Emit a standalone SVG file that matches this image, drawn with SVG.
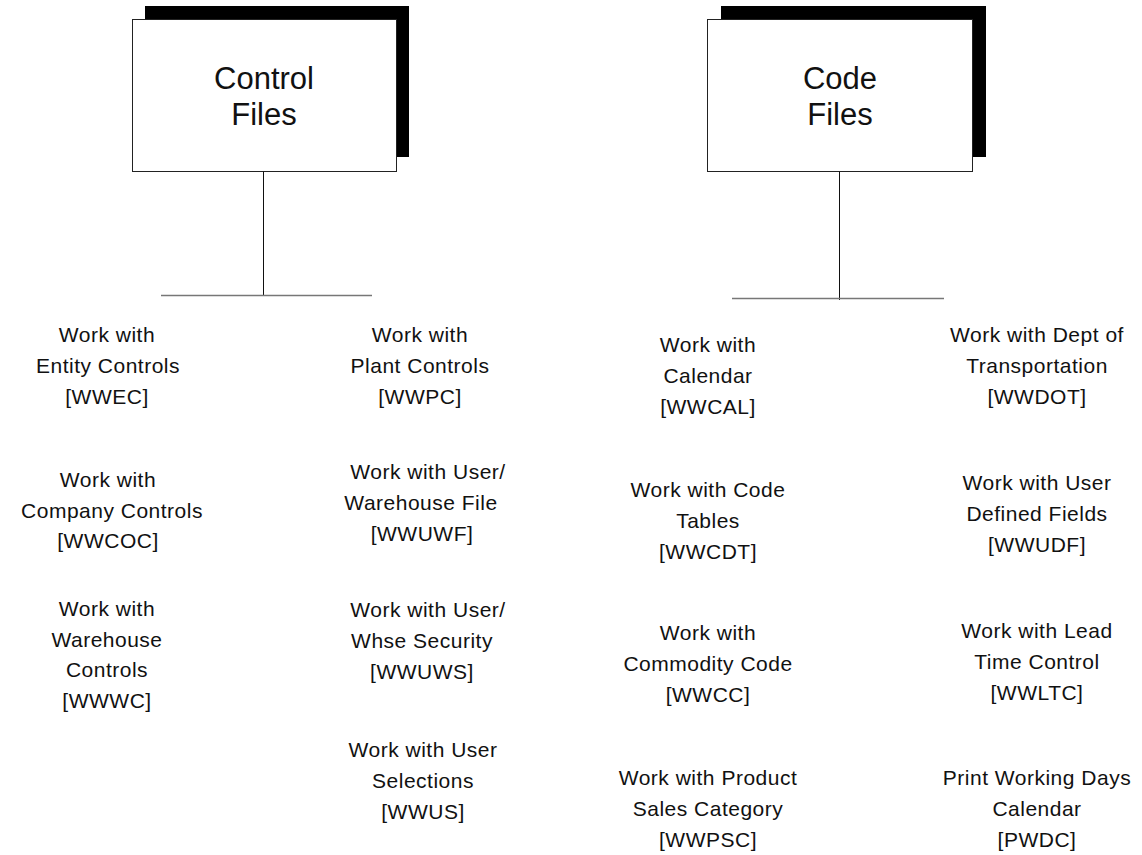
<svg xmlns="http://www.w3.org/2000/svg" width="1142" height="855" viewBox="0 0 1142 855">
  <style>
    .shadow { fill: #000; }
    .box { fill: #fff; stroke: #222; stroke-width: 1; }
    .title { font-family: "Liberation Sans", Arial, sans-serif; font-size: 31px; fill: #111; text-anchor: middle; }
    .item { font-family: "Liberation Sans", Arial, sans-serif; font-size: 21px; letter-spacing: 0.5px; fill: #111; text-anchor: middle; }
    .stem { stroke: #111; stroke-width: 1; fill: none; }
    .bar { stroke: #777; stroke-width: 1.5; fill: none; }
  </style>
  <rect width="1142" height="855" fill="#fff"/>

  <!-- parent node: Control Files -->
  <g id="control-files">
    <rect class="shadow" x="145" y="6" width="264" height="151"/>
    <rect class="box" x="132.5" y="19.5" width="264" height="152"/>
    <text class="title" x="264" y="89">Control</text>
    <text class="title" x="264" y="125">Files</text>
  </g>

  <!-- parent node: Code Files -->
  <g id="code-files">
    <rect class="shadow" x="721" y="6" width="265" height="151"/>
    <rect class="box" x="707.5" y="19.5" width="265" height="152"/>
    <text class="title" x="840" y="89">Code</text>
    <text class="title" x="840" y="125">Files</text>
  </g>

  <!-- tree connectors -->
  <g id="connectors">
    <line class="stem" x1="263.5" y1="171.5" x2="263.5" y2="295.5"/>
    <line class="bar" x1="161" y1="295.5" x2="372" y2="295.5"/>
    <line class="stem" x1="839.5" y1="171.5" x2="839.5" y2="300"/>
    <line class="bar" x1="732" y1="298.5" x2="944" y2="298.5"/>
  </g>

  <!-- Control Files programs, left column -->
  <g id="wwec">
    <text class="item" x="107" y="342">Work with</text>
    <text class="item" x="108" y="373">Entity Controls</text>
    <text class="item" x="107" y="404">[WWEC]</text>
  </g>
  <g id="wwcoc">
    <text class="item" x="108" y="487">Work with</text>
    <text class="item" x="112" y="518">Company Controls</text>
    <text class="item" x="108" y="548">[WWCOC]</text>
  </g>
  <g id="wwwc">
    <text class="item" x="107" y="616">Work with</text>
    <text class="item" x="107" y="647">Warehouse</text>
    <text class="item" x="107" y="677">Controls</text>
    <text class="item" x="107" y="708">[WWWC]</text>
  </g>

  <!-- Control Files programs, right column -->
  <g id="wwpc">
    <text class="item" x="420" y="342">Work with</text>
    <text class="item" x="420" y="373">Plant Controls</text>
    <text class="item" x="420" y="404">[WWPC]</text>
  </g>
  <g id="wwuwf">
    <text class="item" x="428" y="479">Work with User/</text>
    <text class="item" x="421" y="510">Warehouse File</text>
    <text class="item" x="422" y="541">[WWUWF]</text>
  </g>
  <g id="wwuws">
    <text class="item" x="428" y="617">Work with User/</text>
    <text class="item" x="422" y="648">Whse Security</text>
    <text class="item" x="422" y="679">[WWUWS]</text>
  </g>
  <g id="wwus">
    <text class="item" x="423" y="757">Work with User</text>
    <text class="item" x="423" y="788">Selections</text>
    <text class="item" x="423" y="819">[WWUS]</text>
  </g>

  <!-- Code Files programs, left column -->
  <g id="wwcal">
    <text class="item" x="708" y="352">Work with</text>
    <text class="item" x="708" y="383">Calendar</text>
    <text class="item" x="708" y="414">[WWCAL]</text>
  </g>
  <g id="wwcdt">
    <text class="item" x="708" y="497">Work with Code</text>
    <text class="item" x="708" y="528">Tables</text>
    <text class="item" x="708" y="559">[WWCDT]</text>
  </g>
  <g id="wwcc">
    <text class="item" x="708" y="640">Work with</text>
    <text class="item" x="708" y="671">Commodity Code</text>
    <text class="item" x="708" y="702">[WWCC]</text>
  </g>
  <g id="wwpsc">
    <text class="item" x="708" y="785">Work with Product</text>
    <text class="item" x="708" y="816">Sales Category</text>
    <text class="item" x="708" y="847">[WWPSC]</text>
  </g>

  <!-- Code Files programs, right column -->
  <g id="wwdot">
    <text class="item" x="1037" y="342">Work with Dept of</text>
    <text class="item" x="1037" y="373">Transportation</text>
    <text class="item" x="1037" y="404">[WWDOT]</text>
  </g>
  <g id="wwudf">
    <text class="item" x="1037" y="490">Work with User</text>
    <text class="item" x="1037" y="521">Defined Fields</text>
    <text class="item" x="1037" y="552">[WWUDF]</text>
  </g>
  <g id="wwltc">
    <text class="item" x="1037" y="638">Work with Lead</text>
    <text class="item" x="1037" y="669">Time Control</text>
    <text class="item" x="1037" y="700">[WWLTC]</text>
  </g>
  <g id="pwdc">
    <text class="item" x="1037" y="785">Print Working Days</text>
    <text class="item" x="1037" y="816">Calendar</text>
    <text class="item" x="1037" y="847">[PWDC]</text>
  </g>
</svg>
